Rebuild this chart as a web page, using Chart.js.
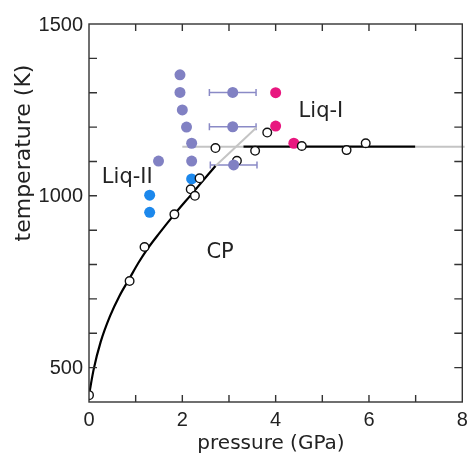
<!DOCTYPE html>
<html>
<head>
<meta charset="utf-8">
<script src="https://cdn.jsdelivr.net/npm/chart.js@4"></script>
<style>
  html, body { margin: 0; padding: 0; background: #fff; overflow: hidden; }
  canvas { display: block; }
</style>
</head>
<body>
<canvas id="phase" width="468" height="457"></canvas>
<script>
// open circles (CP / boundary measurements)
const circleP = [0, 0.87, 1.19, 1.83, 2.18, 2.27, 2.37, 2.71, 3.17, 3.56, 3.82, 4.56, 5.52, 5.93];
const circleT = [420, 752, 851, 946, 1019, 1000, 1051, 1139, 1102, 1131, 1184, 1145, 1133, 1153];

// Liq-I (magenta) and Liq-II (blue)
const liqIP = [4.0, 4.0, 4.39];
const liqIT = [1300, 1203, 1153];
const liqIIP = [1.3, 1.3, 2.2];
const liqIIT = [1002, 952, 1049];

// lavender points, some with pressure error bars
const midP = [1.95, 1.95, 2.0, 2.09, 2.2, 2.2, 1.49, 3.08, 3.08, 3.1];
const midT = [1352, 1301, 1250, 1200, 1153, 1101, 1101, 1301, 1201, 1090];
const midErr = [0, 0, 0, 0, 0, 0, 0, 0.5, 0.5, 0.5];

// melting curve
const meltP = [0, 0.1, 0.25, 0.45, 0.65, 0.87, 1.05, 1.25, 1.5, 1.83, 2.2, 2.71];
const meltT = [420, 495, 575, 650, 708, 760, 803, 845, 890, 946, 1005, 1087];

// boundaries
const flatT = 1143;
const flatGrayP = [2.0, 3.31];
const flatBlackP = [3.31, 6.99];
const flatTailP = [6.99, 8.05];
const diagP = [2.71, 3.59];
const diagT = [1087, 1199];

// axes
const xTicks = [0, 2, 4, 6, 8];
const yTicks = [500, 1000, 1500];
const xMinorStep = 1;
const yMinorStep = 100;

const regionLabels = ["Liq-II", "Liq-I", "CP"];
const regionAt = [[0.82, 1052], [4.97, 1245], [2.81, 834]];

const pts = (xs, ys) => xs.map((x, i) => ({ x: x, y: ys[i] }));
const flat = xs => xs.map(x => ({ x: x, y: flatT }));

const frame = {
  id: "frame",
  beforeDatasetsDraw(chart) {
    const { ctx, scales: { x, y } } = chart;
    ctx.save();
    ctx.strokeStyle = "#8a8ac6";
    ctx.lineWidth = 1.5;
    midP.forEach((p, i) => {
      const e = midErr[i];
      if (!e) return;
      const py = y.getPixelForValue(midT[i]);
      const l = x.getPixelForValue(p - e), r = x.getPixelForValue(p + e);
      ctx.beginPath();
      ctx.moveTo(l, py); ctx.lineTo(r, py);
      ctx.moveTo(l, py - 3.5); ctx.lineTo(l, py + 3.5);
      ctx.moveTo(r, py - 3.5); ctx.lineTo(r, py + 3.5);
      ctx.stroke();
    });
    ctx.restore();
  },
  afterDraw(chart) {
    const { ctx, chartArea: a, scales: { x, y } } = chart;
    ctx.save();
    ctx.strokeStyle = "#333";
    ctx.lineWidth = 1.4;
    ctx.strokeRect(a.left, a.top, a.right - a.left, a.bottom - a.top);
    ctx.beginPath();
    for (let v = x.min + xMinorStep; v < x.max; v += xMinorStep) {
      const px = x.getPixelForValue(v);
      ctx.moveTo(px, a.bottom); ctx.lineTo(px, a.bottom - 7);
      ctx.moveTo(px, a.top); ctx.lineTo(px, a.top + 7);
    }
    for (let v = 500; v < y.max; v += yMinorStep) {
      const py = y.getPixelForValue(v);
      ctx.moveTo(a.left, py); ctx.lineTo(a.left + 8, py);
      ctx.moveTo(a.right, py); ctx.lineTo(a.right - 8, py);
    }
    ctx.stroke();

    ctx.fillStyle = "#222";
    ctx.font = "20px 'Liberation Sans', Arial, sans-serif";
    ctx.textAlign = "center";
    ctx.textBaseline = "top";
    xTicks.forEach(v => ctx.fillText(String(v), x.getPixelForValue(v), a.bottom + 8));
    ctx.textAlign = "right";
    ctx.textBaseline = "middle";
    yTicks.forEach(v => ctx.fillText(String(v), a.left - 6, y.getPixelForValue(v) + 1));

    ctx.font = "20px 'DejaVu Sans', Verdana, sans-serif";
    ctx.textAlign = "center";
    ctx.textBaseline = "middle";
    ctx.fillText("pressure (GPa)", 271, 444);
    ctx.save();
    ctx.translate(24, 153);
    ctx.rotate(-Math.PI / 2);
    ctx.font = "22px 'DejaVu Sans', Verdana, sans-serif";
    ctx.fillText("temperature (K)", 0, 0);
    ctx.restore();

    ctx.font = "21px 'DejaVu Sans', Verdana, sans-serif";
    regionLabels.forEach((t, i) => {
      ctx.fillText(t, x.getPixelForValue(regionAt[i][0]), y.getPixelForValue(regionAt[i][1]));
    });
    ctx.restore();
  }
};

const dot = (data, color, order) => ({
  data: data, order: order, pointRadius: 5.5, pointHoverRadius: 5.5,
  pointBackgroundColor: color, pointBorderWidth: 0, showLine: false
});
const seg = (data, color, width, order, clip) => ({
  data: data, order: order, showLine: true, pointRadius: 0,
  borderColor: color, borderWidth: width, clip: clip
});

new Chart(document.getElementById("phase"), {
  type: "scatter",
  data: {
    datasets: [
      dot(pts(midP, midT), "#8181c3", 0),
      {
        data: pts(circleP, circleT), order: 1, showLine: false,
        pointRadius: 4.3, pointBackgroundColor: "#fff",
        pointBorderColor: "#111", pointBorderWidth: 1.4
      },
      dot(pts(liqIIP, liqIIT), "#1c88ec", 2),
      dot(pts(liqIP, liqIT), "#e8177f", 3),
      Object.assign(seg(pts(meltP, meltT), "#000", 2.2, 4), { cubicInterpolationMode: "monotone" }),
      seg(flat(flatBlackP), "#000", 2.2, 5),
      seg(flat(flatGrayP), "#c4c4c4", 2, 6),
      seg(flat(flatTailP), "#c4c4c4", 2, 6, 4),
      seg(pts(diagP, diagT), "#c4c4c4", 2, 6)
    ]
  },
  options: {
    responsive: false,
    animation: false,
    layout: { padding: { left: 89, top: 24, right: 2, bottom: 55 } },
    plugins: { legend: { display: false }, tooltip: { enabled: false } },
    scales: {
      x: { type: "linear", min: 0, max: 8, display: false },
      y: { type: "linear", min: 400, max: 1500, display: false }
    }
  },
  plugins: [frame]
});
</script>
</body>
</html>
